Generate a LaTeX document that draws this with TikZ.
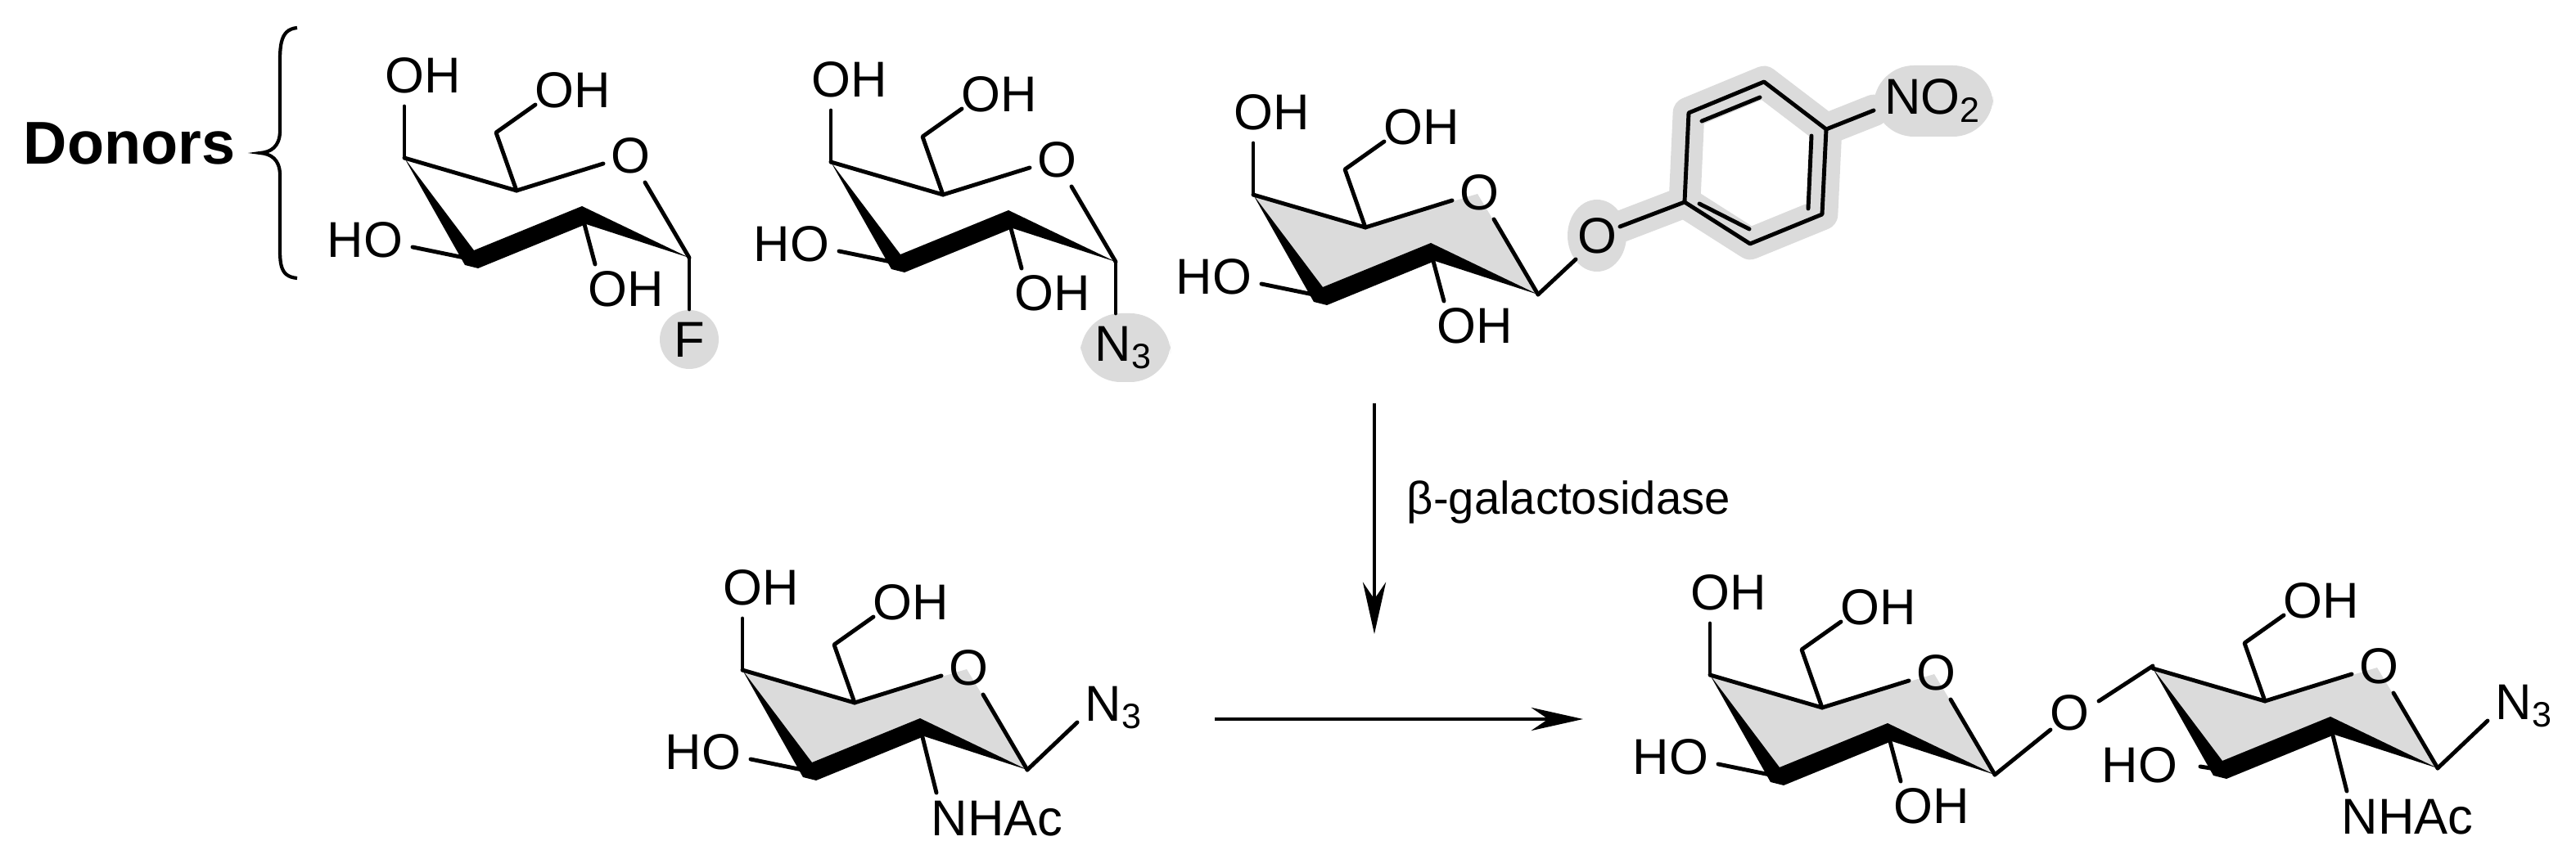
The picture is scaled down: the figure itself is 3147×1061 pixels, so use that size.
\documentclass[tikz,border=0pt]{standalone}
\usepackage{fontspec}
\setmainfont{Liberation Sans}
\usetikzlibrary{arrows.meta}
\tikzset{
  bond/.style={line width=1.4pt, line cap=round, line join=round},
  lbl/.style={inner sep=0pt, font=\fontsize{17.5}{17.5}\selectfont},
  hilite/.style={fill=black!14},
  ringfill/.style={fill=black!14},
  rxn/.style={line width=1.4pt, -{Stealth[length=18pt,width=8pt]}}
}
% ring core; #1 prefix, #2 fill style
\newcommand\ringcore[2]{%
  \fill[#2] (0,0) -- (-74,-123) -- (-211,-82) -- (-348,-122) -- (-265,2) -- (-131,-52) -- cycle;
  \draw[bond] (-348,-122) -- (-211,-82) -- (-105,-115);
  \draw[bond] (-54,-92) -- (0,0);
  \fill[black] (-348,-122) -- (-263,-9) -- (-131,-63) -- (0,0) -- (-126,-41) -- (-258,13) -- (-274,9) -- cycle;
  \node[lbl] (#1O) at (-72,-125) {O};
}
\newcommand\cfourOH[1]{%
  \draw[bond] (-348,-122) -- (-348,-185);
  \node[lbl] (#1oh4) at (-325,-223) {OH};}
\newcommand\csixOH[1]{%
  \draw[bond] (-211,-82) -- (-236,-153) -- (-188,-187);
  \node[lbl] (#1oh6) at (-142,-205) {OH};}
\newcommand\cthreeHO[1]{%
  \draw[bond] (-265,2) -- (-338,-13);
  \node[lbl] (#1ho3) at (-396,-22) {HO};}
\newcommand\ctwoOH[1]{%
  \draw[bond] (-131,-52) -- (-115,8);
  \node[lbl] (#1oh2) at (-77,38) {OH};}
\newcommand\ctwoNHAc[1]{%
  \draw[bond] (-131,-52) -- (-111,28);
  \node[lbl,anchor=west] (#1nhac) at (-118,60) {NHAc};}
\newcommand\betaNthree[1]{%
  \draw[bond] (0,0) -- (61,-58);
  \node[lbl] (#1n3) at (106,-76) {N\textsubscript{3}};}
\begin{document}
\begin{tikzpicture}[x=0.01cm,y=-0.01cm]
\useasboundingbox (0,0) rectangle (3147,1061);
% Donors label and brace
\node[inner sep=0pt, font=\fontsize{21}{21}\selectfont\bfseries] (donors) at (158,175) {Donors};
\draw[line width=1.2pt] (363,34) .. controls (340,36) and (342,60) .. (342,90)
  -- (342,160) .. controls (342,180) and (330,186) .. (318,187)
  .. controls (330,188) and (342,194) .. (342,214) -- (342,290)
  .. controls (342,320) and (340,338) .. (363,340);
% Donor 1: alpha-F
\begin{scope}[shift={(842,315)}]
  \fill[hilite] (0,100) ellipse (36 and 36);
  \ringcore{a}{fill=white}
  \cfourOH{a}\csixOH{a}\cthreeHO{a}\ctwoOH{a}
  \draw[bond] (0,0) -- (0,63);
  \node[lbl] (aF) at (0,100) {F};
\end{scope}
% Donor 2: alpha-N3
\begin{scope}[shift={(1363,320)}]
  \fill[hilite,rounded corners=14pt] (-43,63) rectangle (67,147);
  \ringcore{b}{fill=white}
  \cfourOH{b}\csixOH{b}\cthreeHO{b}\ctwoOH{b}
  \draw[bond] (0,0) -- (0,63);
  \node[lbl] (bN) at (10,105) {N\textsubscript{3}};
\end{scope}
% Donor 3: pNP galactoside
\begin{scope}[shift={(1879,360)}]
  \draw[black!14, line width=11pt, line join=round, line cap=round]
    (72,-72) -- (179,-113) -- (184,-222) -- (276,-260) -- (352,-202) -- (347,-98) -- (259,-62) -- (179,-113)
    (352,-202) -- (410,-225);
  \fill[hilite] (72,-72) ellipse (36 and 44);
  \fill[hilite,rounded corners=14pt] (410,-280) rectangle (556,-193);
  \ringcore{c}{ringfill}
  \cfourOH{c}\csixOH{c}\cthreeHO{c}\ctwoOH{c}
  \draw[bond] (0,0) -- (46,-43);
  \node[lbl] (cO) at (72,-72) {O};
  \draw[bond] (100,-83) -- (179,-113);
  \draw[bond] (179,-113) -- (184,-222) -- (276,-260) -- (352,-202) -- (347,-98) -- (259,-62) -- cycle;
  \draw[bond] (200,-212) -- (271,-241);
  \draw[bond] (334,-194) -- (330,-105);
  \draw[bond] (197,-111) -- (258,-80);
  \draw[bond] (352,-202) -- (410,-225);
  \node[lbl] (cNO2) at (482,-237) {NO\textsubscript{2}};
\end{scope}
% Arrows
\coordinate (v1) at (1679,493);
\coordinate (v2) at (1679,775);
\draw[rxn] (v1) -- (v2);
\node[lbl,anchor=west] (enz) at (1718,614) {\fontsize{16}{16}\selectfont β-galactosidase};
\coordinate (h1) at (1484,879);
\coordinate (h2) at (1934,879);
\draw[rxn] (h1) -- (h2);
% Acceptor
\begin{scope}[shift={(1255,941)}]
  \ringcore{d}{ringfill}
  \cfourOH{d}\csixOH{d}\cthreeHO{d}\ctwoNHAc{d}\betaNthree{d}
\end{scope}
% Product: Gal unit
\begin{scope}[shift={(2437,947)}]
  \ringcore{e}{ringfill}
  \cfourOH{e}\csixOH{e}\cthreeHO{e}\ctwoOH{e}
  \draw[bond] (0,0) -- (68,-55);
  \node[lbl] (eO) at (91,-76) {O};
\end{scope}
% Product: GlcNAc-N3 unit
\begin{scope}[shift={(2978,939)}]
  \ringcore{f}{ringfill}
  \csixOH{f}\ctwoNHAc{f}\betaNthree{f}
  \draw[bond] (-265,2) -- (-290,-2);
  \node[lbl] (fho3) at (-364,-4) {HO};
  \draw[bond] (-414,-82) -- (-348,-125);
\end{scope}
\end{tikzpicture}
\end{document}
